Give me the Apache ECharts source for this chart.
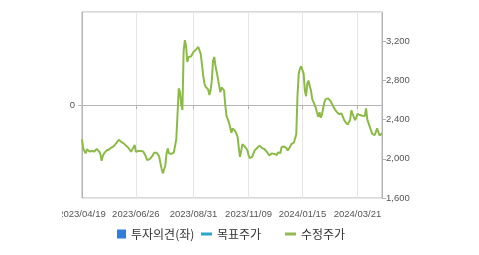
<!DOCTYPE html>
<html>
<head>
<meta charset="utf-8">
<script src="https://cdn.jsdelivr.net/npm/echarts@6/dist/echarts.min.js"></script>
<style>
html,body{margin:0;padding:0;background:#fff;}
#chart{width:479px;height:255px;}
</style>
</head>
<body>
<div id="chart"></div>
<script>
// Trading calendar (KRX holidays excluded)
const startDate = '2023/04/19';
const endDate = '2024/04/19';
const holidays = ['2023/05/01','2023/05/05','2023/05/29','2023/06/06','2023/08/15','2023/09/28','2023/09/29','2023/10/02','2023/10/03','2023/10/09','2023/12/25','2023/12/29','2024/01/01','2024/02/09','2024/02/12','2024/03/01','2024/04/10'];
const tickLabels = ['2023/04/19','2023/06/26','2023/08/31','2023/11/09','2024/01/15','2024/03/21'];

// 수정주가 (adjusted price), one value per trading day
const adjPrice = [
2199,2110,2079,2056,2097,2090,2075,2069,2079,2085,
2075,2080,2100,2085,2075,2050,1980,2030,2055,2069,
2085,2075,2095,2110,2115,2123,2130,2141,2160,2180,
2195,2209,2174,2165,2158,2151,2135,2123,2110,2090,
2072,2090,2115,2141,2072,2090,2080,2072,2080,2090,
2075,2062,2030,1988,1985,1995,2005,2021,2040,2062,
2065,2062,2055,2025,1960,1900,1852,1868,1930,2050,
2107,2056,2060,2050,2056,2065,2072,2200,2450,2719,
2684,2560,2498,3100,3212,3150,2990,3041,3025,3045,
3065,3092,3105,3115,3130,3143,3105,3070,2960,2850,
2770,2735,2725,2710,2651,2700,2800,3000,3041,2950,
2888,2820,2745,2680,2730,2719,2700,2550,2440,2405,
2370,2320,2265,2311,2327,2285,2265,2230,2120,2021,
2080,2150,2170,2125,2110,2090,2039,2008,2005,2020,
2056,2085,2100,2110,2123,2135,2125,2110,2123,2100,
2080,2070,2062,2035,2030,2056,2045,2050,2060,2039,
2065,2065,2060,2120,2110,2125,2135,2110,2085,2090,
2123,2150,2168,2165,2180,2250,2651,2870,2923,2945,
2940,2870,2700,2640,2770,2800,2740,2700,2610,2582,
2570,2520,2470,2429,2475,2420,2455,2520,2580,2610,
2623,2618,2605,2590,2566,2540,2515,2495,2480,2470,
2455,2450,2464,2430,2400,2378,2365,2350,2365,2400,
2495,2460,2445,2396,2420,2460,2452,2447,2447,2440,
2429,2438,2515,2400,2365,2345,2290,2255,2243,2243,
2275,2311,2276,2240,2226,2260
];
const opinion = [];      // 투자의견(좌) - no data
const targetPrice = [];  // 목표주가 - no data

function pad(n){return n<10?'0'+n:''+n;}
function fmt(d){return d.getUTCFullYear()+'/'+pad(d.getUTCMonth()+1)+'/'+pad(d.getUTCDate());}
function parse(s){const p=s.split('/');return new Date(Date.UTC(+p[0],+p[1]-1,+p[2]));}
const dates = [];
for(let d=parse(startDate); d<=parse(endDate); d=new Date(d.getTime()+86400000)){
  const wd=d.getUTCDay();
  const s=fmt(d);
  if(wd!==0 && wd!==6 && holidays.indexOf(s)<0) dates.push(s);
}

const showTick = function(i, v){ return tickLabels.indexOf(v) >= 0; };
const axisFont = {fontFamily:'Liberation Sans, Arial, sans-serif', fontSize:9.5, color:'#555'};
const legendText = {fontFamily:'Noto Sans CJK KR, sans-serif', fontSize:12, color:'#333'};

const chart = echarts.init(document.getElementById('chart'), null, {renderer:'canvas'});
chart.setOption({
  animation:false,
  backgroundColor:'#fff',
  grid:{left:82, right:97, top:12, bottom:57, show:true, borderColor:'#b4b4b4', borderWidth:1},
  xAxis:{
    type:'category', data:dates, boundaryGap:false,
    axisLine:{lineStyle:{color:'#b4b4b4'}},
    axisTick:{interval:showTick, length:4, lineStyle:{color:'#b4b4b4'}},
    axisLabel:Object.assign({interval:showTick, margin:11}, axisFont),
    splitLine:{show:true, interval:showTick, lineStyle:{color:'#e6e6e6'}}
  },
  yAxis:[
    {type:'value', min:-1, max:1, interval:1, position:'left',
     axisLine:{show:true, lineStyle:{color:'#b4b4b4'}},
     axisTick:{show:true, length:4, lineStyle:{color:'#b4b4b4'}},
     axisLabel:Object.assign({showMinLabel:false, showMaxLabel:false, margin:7}, axisFont),
     splitLine:{show:true, lineStyle:{color:'#e6e6e6'}}},
    {type:'value', min:1600, max:3500, interval:400, position:'right',
     axisLine:{show:true, lineStyle:{color:'#b4b4b4'}},
     axisTick:{show:true, length:4, lineStyle:{color:'#b4b4b4'}},
     axisLabel:Object.assign({showMaxLabel:false, margin:4,
       formatter:function(v){return String(v).replace(/\B(?=(\d{3})+(?!\d))/g, ',');}}, axisFont),
     splitLine:{show:false}}
  ],
  legend:[
    {data:[{name:'투자의견(좌)', icon:'rect'}], left:117, top:228, padding:0, itemWidth:9, itemHeight:9, textStyle:legendText},
    {data:[{name:'목표주가', icon:'rect'}], left:201, top:228, padding:0, itemWidth:11, itemHeight:3, textStyle:legendText},
    {data:[{name:'수정주가', icon:'rect'}], left:285, top:228, padding:0, itemWidth:11, itemHeight:3, textStyle:legendText}
  ],
  series:[
    {name:'투자의견(좌)', type:'bar', yAxisIndex:0, data:opinion, itemStyle:{color:'#2f7edb'}},
    {name:'목표주가', type:'line', yAxisIndex:1, data:targetPrice, showSymbol:false, itemStyle:{color:'#27a9c6'}, lineStyle:{color:'#27a9c6'}},
    {name:'수정주가', type:'line', yAxisIndex:1, data:adjPrice, showSymbol:false, symbol:'none',
     itemStyle:{color:'#93b955'}, lineStyle:{color:'#8cba48', width:2}}
  ],
  graphic:[
    {type:'rect', shape:{x:0, y:203, width:62, height:20}, style:{fill:'#fff'}, z:100}
  ]
});
</script>
</body>
</html>
